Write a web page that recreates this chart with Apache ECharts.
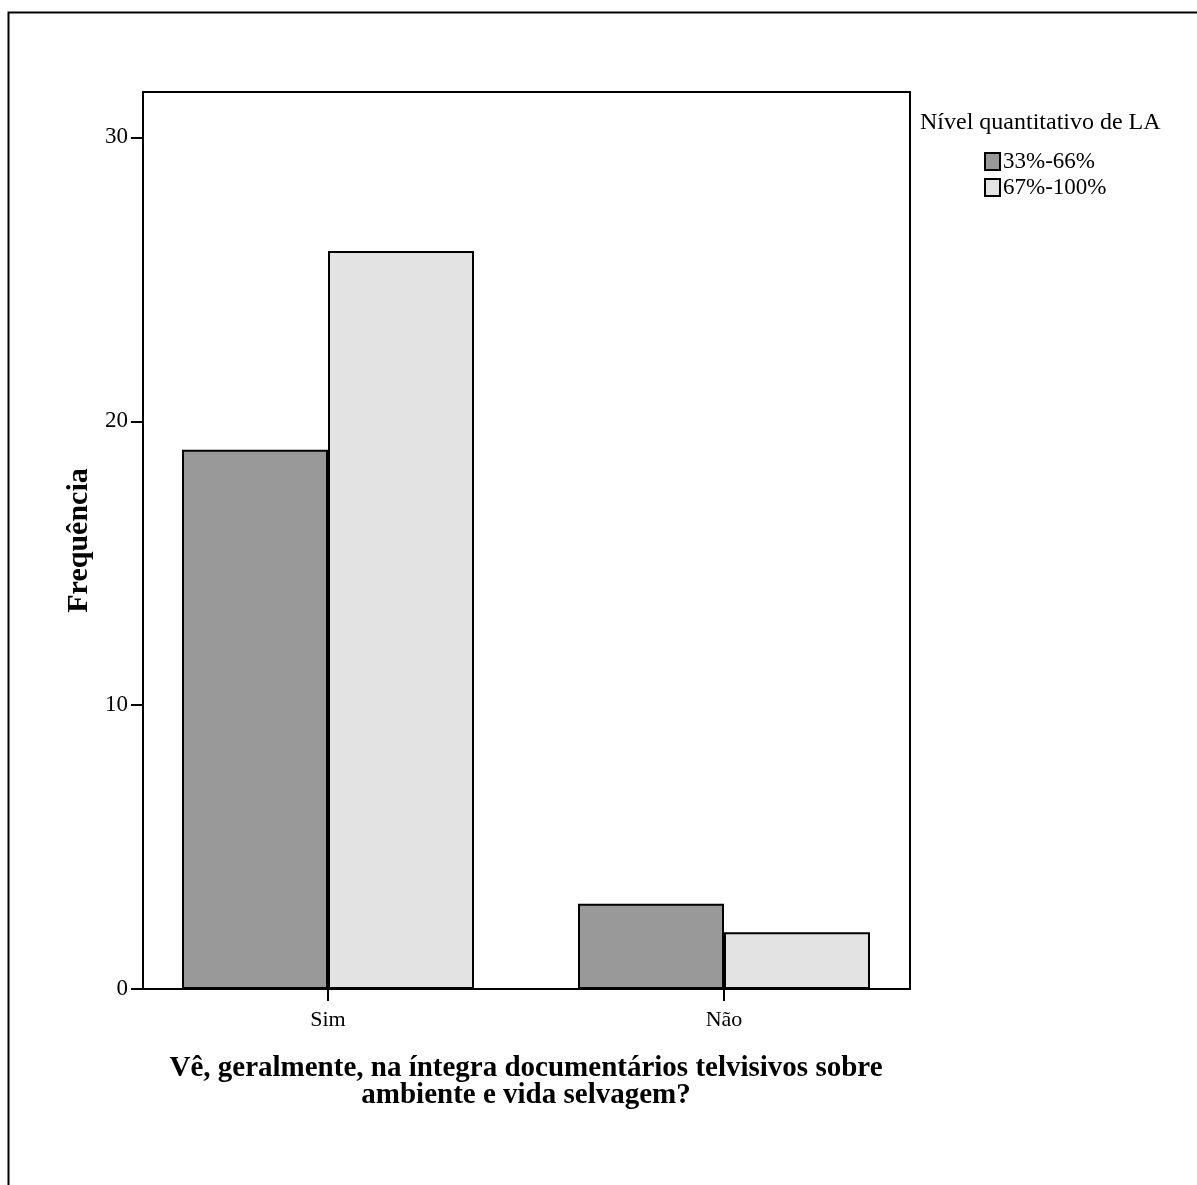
<!DOCTYPE html>
<html>
<head>
<meta charset="utf-8">
<script src="https://cdn.jsdelivr.net/npm/echarts@6/dist/echarts.min.js"></script>
<style>
html,body{margin:0;padding:0;background:#fff;}
#c{width:1197px;height:1185px;}
</style>
</head>
<body>
<div id="c"></div>
<script>
const categories = ['Sim', 'Não'];
const seriesNames = ['33%-66%', '67%-100%'];
const values33_66 = [19, 3];
const values67_100 = [26, 2];
const yTicks = [0, 10, 20, 30];
const colors = ['#999999', '#e3e3e3'];

const FONT = '"Liberation Serif", "Times New Roman", serif';
const chart = echarts.init(document.getElementById('c'));
chart.setOption({
  backgroundColor: '#ffffff',
  animation: false,
  textStyle: { fontFamily: FONT, color: '#000' },
  graphic: [{
    type: 'rect', left: 6, top: 10, z: 100,
    shape: { width: 1200, height: 1200 },
    style: { fill: 'none', stroke: '#000', lineWidth: 2 }
  }],
  title: {
    text: 'Nível quantitativo de LA',
    left: 915, top: 106,
    textStyle: { fontFamily: FONT, fontWeight: 'normal', fontSize: 24, color: '#000' }
  },
  legend: {
    orient: 'vertical',
    left: 979, top: 145,
    icon: 'rect',
    itemWidth: 15, itemHeight: 17, itemGap: 3,
    data: seriesNames,
    textStyle: { fontFamily: FONT, fontSize: 23, color: '#000', padding: [0, 0, 0, -2] }
  },
  grid: [
    { left: 143, top: 92, width: 767, height: 897, show: true, borderColor: '#000', borderWidth: 2, backgroundColor: 'transparent', z: 10 },
    { left: 130, top: 92, width: 792, height: 897 }
  ],
  xAxis: [
    { gridIndex: 0, type: 'value', show: false, min: 0, max: 1 },
    {
      gridIndex: 1, type: 'category', data: categories,
      boundaryGap: true,
      axisLine: { show: false },
      axisTick: { show: true, alignWithLabel: true, length: 12, lineStyle: { color: '#000', width: 2 } },
      axisLabel: { color: '#000', fontFamily: FONT, fontSize: 22, margin: 20 },
      name: 'Vê, geralmente, na íntegra documentários telvisivos sobre\nambiente e vida selvagem?',
      nameLocation: 'middle',
      nameGap: 66,
      nameTextStyle: { fontFamily: FONT, fontWeight: 'bold', fontSize: 29, lineHeight: 27, color: '#000' }
    }
  ],
  yAxis: [
    { gridIndex: 0, type: 'value', show: false, min: 0, max: 1 },
    {
      gridIndex: 1, type: 'value', min: 0, max: 31.6, interval: 10,
      offset: -13,
      splitLine: { show: false },
      axisLine: { show: true, lineStyle: { color: '#000', width: 2 } },
      axisTick: { show: true, length: 12, customValues: yTicks, lineStyle: { color: '#000', width: 2 } },
      axisLabel: { color: '#000', fontFamily: FONT, fontSize: 23, margin: 15, customValues: yTicks },
      name: 'Frequência',
      nameLocation: 'middle',
      nameGap: 44,
      nameTextStyle: { fontFamily: FONT, fontWeight: 'bold', fontSize: 30, color: '#000' }
    }
  ],
  series: [
    {
      name: seriesNames[0], type: 'bar', xAxisIndex: 1, yAxisIndex: 1,
      data: values33_66, barWidth: 146, barGap: '0%',
      itemStyle: { color: colors[0], borderColor: '#000', borderWidth: 2 }
    },
    {
      name: seriesNames[1], type: 'bar', xAxisIndex: 1, yAxisIndex: 1,
      data: values67_100, barWidth: 146, barGap: '0%',
      itemStyle: { color: colors[1], borderColor: '#000', borderWidth: 2 }
    }
  ]
});
</script>
</body>
</html>
